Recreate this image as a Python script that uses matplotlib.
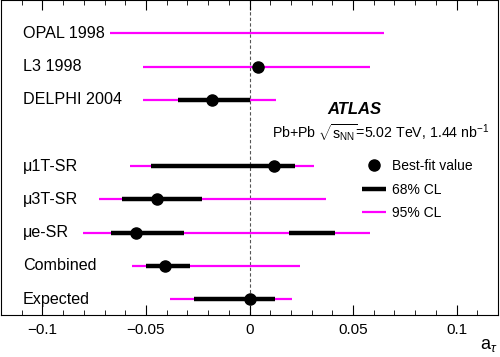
import matplotlib
matplotlib.use("Agg")
import matplotlib.pyplot as plt
from matplotlib.lines import Line2D
from matplotlib.ticker import MultipleLocator

plt.rcParams["font.family"] = ["Liberation Sans", "DejaVu Sans"]
plt.rcParams["mathtext.fontset"] = "custom"
plt.rcParams["mathtext.rm"] = "Liberation Sans"
plt.rcParams["mathtext.it"] = "Liberation Sans:italic"

# rows, top to bottom (row 6 left empty as in the original)
labels = ["OPAL 1998", "L3 1998", "DELPHI 2004",
          "\u03bc1T-SR", "\u03bc3T-SR", "\u03bce-SR", "Combined", "Expected"]
rows = [9, 8, 7, 5, 4, 3, 2, 1]

best = [None, 0.0042, -0.0179, 0.0118, -0.0446, -0.0550, -0.0410, 0.0]
cl95_lo = [-0.0675, -0.0515, -0.0515, -0.0575, -0.0725, -0.0805, -0.0565, -0.0386]
cl95_hi = [0.0650, 0.0580, 0.0130, 0.0310, 0.0371, 0.0583, 0.0243, 0.0203]
# 68% CL intervals, a row can have more than one
cl68 = [[], [], [(-0.0347, 0.0)], [(-0.0478, 0.0219)], [(-0.0618, -0.0227)],
        [(-0.0667, -0.0318), (0.0191, 0.0413)], [(-0.0498, -0.0286)],
        [(-0.0267, 0.0123)]]

MAGENTA = "#FF00FF"

fig = plt.figure(figsize=(5.0, 3.57), dpi=100)
ax = fig.add_axes([0.002, 0.1176, 0.994, 0.882])

ax.axvline(0, color="#555555", lw=0.8, ls=(0, (3, 2)), zorder=1)

for y, lo, hi in zip(rows, cl95_lo, cl95_hi):
    ax.plot([lo, hi], [y, y], color=MAGENTA, lw=1.6, solid_capstyle="butt", zorder=2)
for y, ivs in zip(rows, cl68):
    for lo, hi in ivs:
        ax.plot([lo, hi], [y, y], color="black", lw=3.2, solid_capstyle="butt", zorder=3)
for y, b in zip(rows, best):
    if b is not None:
        ax.plot(b, y, "o", color="black", ms=8, zorder=4)

for y, lab in zip(rows, labels):
    ax.text(-0.1095, y, lab, fontsize=11.6, ha="left", va="center")

ax.text(0.0375, 6.72, "ATLAS", fontsize=12, fontweight="bold", fontstyle="italic",
        ha="left", va="center")
ax.text(0.0107, 6.0, r"Pb+Pb $\sqrt{\mathrm{s}_{\mathrm{NN}}}$=5.02 TeV, 1.44 nb$^{-1}$",
        fontsize=10.2, ha="left", va="center")

handles = [Line2D([], [], ls="none", marker="o", color="black", ms=8),
           Line2D([], [], color="black", lw=3.2, solid_capstyle="butt"),
           Line2D([], [], color=MAGENTA, lw=1.6, solid_capstyle="butt")]
ax.legend(handles, ["Best-fit value", "68% CL", "95% CL"], loc="upper left",
          bbox_to_anchor=(0.715, 0.512), frameon=False, fontsize=10,
          handlelength=1.7, handletextpad=0.45, labelspacing=0.68,
          borderaxespad=0.0)

ax.set_xlim(-0.12, 0.12)
ax.set_ylim(0.52, 10.0)
ax.xaxis.set_major_locator(MultipleLocator(0.05))
ax.xaxis.set_minor_locator(MultipleLocator(0.01))
ax.set_xticks([-0.1, -0.05, 0, 0.05, 0.1])
ax.set_xticklabels(["\u22120.1", "\u22120.05", "0", "0.05", "0.1"])
ax.tick_params(axis="x", which="both", direction="in", top=True, labelsize=11, pad=6)
ax.tick_params(axis="x", which="major", length=7)
ax.tick_params(axis="x", which="minor", length=3.5)
ax.set_yticks([])
ax.set_xlabel(r"a$_{\tau}$", fontsize=13, loc="right", labelpad=0)

fig.savefig("out.png", dpi=100)
